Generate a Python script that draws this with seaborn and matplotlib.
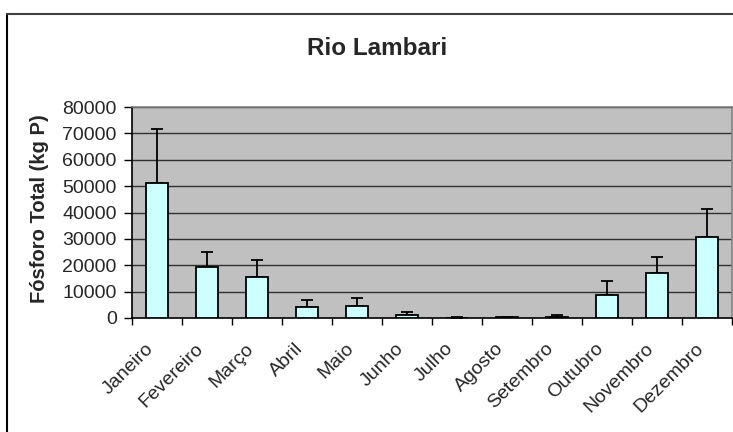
import matplotlib
matplotlib.use("Agg")
import matplotlib.pyplot as plt
import matplotlib.transforms as mtransforms
from matplotlib.lines import Line2D
import numpy as np
import pandas as pd
import seaborn as sns

# Monthly total phosphorus load (kg P) and upper standard deviation
meses = ["Janeiro", "Fevereiro", "Março", "Abril", "Maio", "Junho",
         "Julho", "Agosto", "Setembro", "Outubro", "Novembro", "Dezembro"]
fosforo = [51000, 19200, 15700, 4100, 4700, 1150, 100, 200, 500, 8600, 16900, 30800]
desvio = [20600, 5800, 6300, 2900, 2900, 1250, 100, 300, 600, 5400, 6300, 10600]
y_ticks = [0, 10000, 20000, 30000, 40000, 50000, 60000, 70000, 80000]

sns.set_theme(style="white")
plt.rcParams["font.family"] = ["Liberation Sans", "DejaVu Sans"]

W, H = 733, 432
fig = plt.figure(figsize=(W / 100, H / 100), dpi=100)
fig.patch.set_facecolor("white")
ax = fig.add_axes([132 / W, 1 - 318 / H, 600 / W, 211 / H])
ax.set_facecolor("#C0C0C0")

df = pd.DataFrame({"mes": meses, "fosforo": fosforo})
sns.barplot(data=df, x="mes", y="fosforo", ax=ax, color="#CCFFFF",
            edgecolor="black", linewidth=1.3, width=0.45, errorbar=None,
            saturation=1, zorder=3)

x = np.arange(len(meses))
ax.errorbar(x, fosforo, yerr=[np.zeros(len(desvio)), desvio], fmt="none",
            ecolor="black", elinewidth=1.3, capsize=4.2, capthick=1.3, zorder=2)

ax.set_ylim(0, 80000)
ax.set_xlim(-0.5, len(meses) - 0.5)
ax.set_yticks(y_ticks)
ax.set_yticklabels([str(v) for v in y_ticks], fontsize=14)
for v in y_ticks[1:]:
    ax.axhline(v, color="#303030", linewidth=1.0, zorder=1)

# category ticks sit on the boundaries between months
ax.set_xticks(x)
ax.set_xticklabels(meses, rotation=45, ha="right", rotation_mode="anchor",
                   fontsize=14)
ax.tick_params(axis="x", length=0, pad=10)
shift = mtransforms.ScaledTranslation(-12 / 100, -8 / 100, fig.dpi_scale_trans)
for lbl in ax.get_xticklabels():
    lbl.set_transform(lbl.get_transform() + shift)
ax.set_xticks(np.arange(-0.5, len(meses)), minor=True)
ax.tick_params(axis="x", which="minor", length=5, width=1, color="black",
               direction="out", bottom=True)
ax.tick_params(axis="y", length=6, width=1, color="black", direction="out",
               left=True, pad=5)

ax.set_xlabel("")
ax.set_ylabel("")

for side in ["left", "bottom"]:
    ax.spines[side].set_color("black")
    ax.spines[side].set_linewidth(1.2)
for side in ["top", "right"]:
    ax.spines[side].set_color("#808080")
    ax.spines[side].set_linewidth(1.2)

fig.text(40 / W, 1 - 209 / H, "Fósforo Total (kg P)", rotation=90,
         ha="center", va="center", fontsize=14.5, fontweight="bold")
fig.text(377.5 / W, 1 - 55 / H, "Rio Lambari", ha="center", va="baseline",
         fontsize=17.5, fontweight="bold")

# outer chart border
fig.add_artist(Line2D([7 / W, 7 / W], [0, 1 - 14 / H], transform=fig.transFigure,
                      color="black", linewidth=1.5))
fig.add_artist(Line2D([7 / W, 1], [1 - 14 / H, 1 - 14 / H], transform=fig.transFigure,
                      color="#404040", linewidth=1.5))

fig.savefig("out.png", dpi=100)
